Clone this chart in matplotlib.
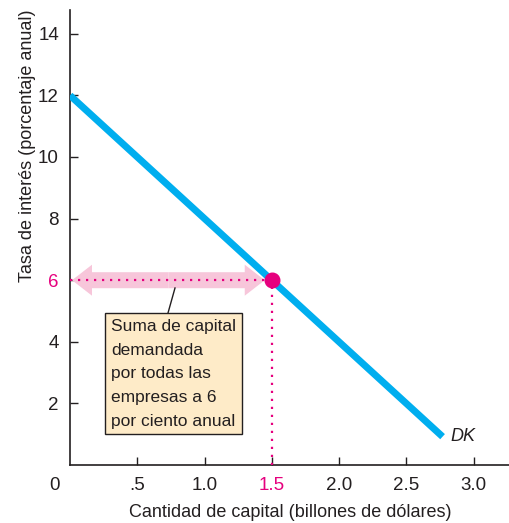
import matplotlib
matplotlib.use("Agg")
import matplotlib.pyplot as plt
from matplotlib.patches import FancyArrow
import numpy as np

# Data
curve_x = [0.0, 2.77]
curve_y = [12.0, 0.92]
eq_x = 1.5
eq_y = 6
xticks = [0.5, 1.0, 1.5, 2.0, 2.5, 3.0]
xticklabels = [".5", "1.0", "1.5", "2.0", "2.5", "3.0"]
yticks = [2, 4, 6, 8, 10, 12, 14]
yticklabels = ["2", "4", "6", "8", "10", "12", "14"]
box_text = "Suma de capital\ndemandada\npor todas las\nempresas a 6\npor ciento anual"

BLUE = "#00AEEF"
PINK = "#E6007E"
LIGHTPINK = "#F7C6DA"
BOXFILL = "#FEEBC8"
TXT = "#231F20"

plt.rcParams['font.family'] = ['Liberation Sans', 'DejaVu Sans']

XS = 134.5  # px per x unit
YS = 30.8   # px per y unit

fig = plt.figure(figsize=(5.10, 5.23), dpi=100)
ax = fig.add_axes([70/510, 58/523, 1 - 70/510, (465-10)/523])
ax.set_xlim(0, 440/XS)
ax.set_ylim(0, 455/YS)

for s in ["top", "right"]:
    ax.spines[s].set_visible(False)
for s in ["left", "bottom"]:
    ax.spines[s].set_color(TXT)
    ax.spines[s].set_linewidth(1.2)

ax.set_xticks(xticks)
ax.set_xticklabels(xticklabels)
ax.set_yticks(yticks)
ax.set_yticklabels(yticklabels)
ax.tick_params(direction="in", length=6, width=1.0, color=TXT, labelsize=13.5, labelcolor=TXT)
ax.tick_params(axis="x", pad=9)
ax.tick_params(axis="y", pad=8)
ax.get_xticklabels()[2].set_color(PINK)
ax.get_yticklabels()[2].set_color(PINK)

ax.annotate("0", xy=(-15/XS, 0), xycoords="data", xytext=(0, -9), textcoords="offset points",
            ha="center", va="top", fontsize=13.5, color=TXT, annotation_clip=False)

ax.set_xlabel("Cantidad de capital (billones de dólares)", fontsize=13, color=TXT, labelpad=7)
ax.set_ylabel("Tasa de interés (porcentaje anual)", fontsize=13, color=TXT)
ax.yaxis.set_label_coords(-0.078, (465-146)/455)

# dotted lines
ax.plot([0, eq_x], [eq_y, eq_y], color=PINK, linestyle=(0, (1, 2.6)), lw=1.6, zorder=4)
ax.plot([eq_x, eq_x], [0, eq_y], color=PINK, linestyle=(0, (1, 2.6)), lw=1.6, zorder=4)

# double-headed arrow (two halves from the middle)
a_left = 2/XS
a_right = eq_x - 7/XS
mid = (a_left + a_right) / 2
for tip in (a_left, a_right):
    ax.add_patch(FancyArrow(mid, eq_y, tip - mid, 0, width=16/YS, head_width=31/YS,
                            head_length=20/XS, length_includes_head=True,
                            facecolor=LIGHTPINK, edgecolor="none", zorder=2))

# demand curve
ax.plot(curve_x, curve_y, color=BLUE, lw=5, solid_capstyle="butt", zorder=3)
ax.plot([eq_x], [eq_y], "o", color=PINK, ms=10.5, zorder=5)
ax.text(2.83, 0.93, "DK", style="italic", fontsize=13, color=TXT, va="center", ha="left")

# leader line
ax.plot([(175-70)/XS, (168-70)/XS], [(465-288)/YS, (465-313)/YS], color=TXT, lw=1, zorder=3)

# box
ax.text((111-70)/XS, (465-319)/YS, box_text, fontsize=12.5, color=TXT, va="top", ha="left",
        linespacing=1.72,
        bbox=dict(boxstyle="square,pad=0.32", facecolor=BOXFILL, edgecolor=TXT, lw=1.0), zorder=4)

fig.savefig("out.png", dpi=100)
